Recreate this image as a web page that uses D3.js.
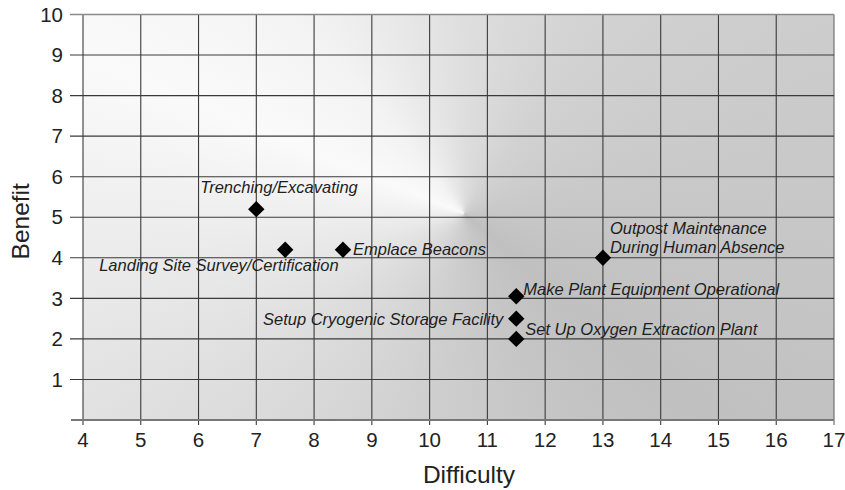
<!DOCTYPE html>
<html>
<head>
<meta charset="utf-8">
<script src="https://cdn.jsdelivr.net/npm/d3@7/dist/d3.min.js"></script>
<style>
  html, body { margin: 0; padding: 0; background: #fff; }
  #wrap { position: relative; width: 845px; height: 490px; overflow: hidden; }
  #bg { position: absolute; }
  svg { position: absolute; left: 0; top: 0; }
  text { font-family: "Liberation Sans", Arial, sans-serif; }
</style>
</head>
<body>
<div id="wrap"><div id="bg"></div></div>
<script>
// ---- data ----
const tasks = [
  "Trenching/Excavating",
  "Landing Site Survey/Certification",
  "Emplace Beacons",
  "Outpost Maintenance|During Human Absence",
  "Make Plant Equipment Operational",
  "Setup Cryogenic Storage Facility",
  "Set Up Oxygen Extraction Plant"
];
const difficulty = [7, 7.5, 8.5, 13, 11.5, 11.5, 11.5];
const benefit    = [5.2, 4.2, 4.2, 4.0, 3.05, 2.5, 2.0];
const xTicks = [4,5,6,7,8,9,10,11,12,13,14,15,16,17];
const yTicks = [1,2,3,4,5,6,7,8,9,10];
const xTitle = "Difficulty";
const yTitle = "Benefit";

// label placement (style only)
const labelPlace = [
  {dx: -56, dy: -16, anchor: "start"},
  {dx: -186, dy: 21, anchor: "start"},
  {dx: 10, dy: 5, anchor: "start"},
  {dx: 7, dy: -24, anchor: "start", lh: 19},
  {dx: 7, dy: -1, anchor: "start"},
  {dx: -13, dy: 6, anchor: "end"},
  {dx: 9, dy: -4, anchor: "start"}
];

const W = 845, H = 490;
const x = d3.scaleLinear().domain([4, 17]).range([83, 834]);
const y = d3.scaleLinear().domain([0, 10]).range([420, 14.5]);

// background shading (conic sweep)
const px0 = x(4), px1 = x(17), py0 = y(10), py1 = y(0);
const cx = x(10.6) - px0, cy = y(5.1) - py0;
d3.select("#bg")
  .style("left", px0 + "px").style("top", py0 + "px")
  .style("width", (px1 - px0) + "px").style("height", (py1 - py0) + "px")
  .style("background",
    `conic-gradient(from 0deg at ${cx}px ${cy}px,
      #dedede 0deg, #d2d2d2 35deg, #c9c9c9 80deg, #c0c0c0 130deg,
      #c6c6c6 160deg, #d0d0d0 195deg, #dedede 235deg, #ececec 265deg,
      #fafafa 292deg, #f3f3f3 320deg, #e6e6e6 345deg, #dedede 360deg)`);

const svg = d3.select("#wrap").append("svg").attr("width", W).attr("height", H);

// grid
const g = svg.append("g");
g.selectAll(".vx").data(xTicks).join("line")
  .attr("x1", d => x(d)).attr("x2", d => x(d))
  .attr("y1", y(10)).attr("y2", y(0) + 5)
  .attr("stroke", d => d === 17 ? "#666" : "#3a3a3a").attr("stroke-width", 1.1);
g.selectAll(".hy").data(yTicks).join("line")
  .attr("x1", x(4) - 13).attr("x2", x(17))
  .attr("y1", d => y(d)).attr("y2", d => y(d))
  .attr("stroke", d => d === 10 ? "#8a8a8a" : "#3a3a3a")
  .attr("stroke-width", d => d === 10 ? 1.6 : 1.1);
// bottom axis line
g.append("line").attr("x1", x(4) - 12).attr("x2", x(17))
  .attr("y1", y(0)).attr("y2", y(0)).attr("stroke", "#777").attr("stroke-width", 2);

// tick labels
svg.append("g").selectAll("text").data(xTicks).join("text")
  .attr("x", d => x(d)).attr("y", y(0) + 27)
  .attr("text-anchor", "middle").attr("font-size", 20.5).attr("fill", "#222")
  .text(d => d);
svg.append("g").selectAll("text").data(yTicks).join("text")
  .attr("x", 63).attr("y", d => y(d)).attr("dy", "0.35em")
  .attr("text-anchor", "end").attr("font-size", 20.5).attr("fill", "#222")
  .text(d => d);

// axis titles
svg.append("text").attr("x", 469).attr("y", 483)
  .attr("text-anchor", "middle").attr("font-size", 24.5).attr("fill", "#222")
  .text(xTitle);
svg.append("text").attr("transform", `translate(29,${y(4.9)}) rotate(-90)`)
  .attr("text-anchor", "middle").attr("font-size", 24.5).attr("fill", "#222")
  .text(yTitle);

// points
const pts = tasks.map((t, i) => ({t, xv: difficulty[i], yv: benefit[i], p: labelPlace[i]}));
const sym = d3.symbol(d3.symbolSquare, 135);
svg.append("g").selectAll("path").data(pts).join("path")
  .attr("d", sym)
  .attr("transform", d => `translate(${x(d.xv)},${y(d.yv)}) rotate(45)`)
  .attr("fill", "#000");

// labels
const lab = svg.append("g").selectAll("text").data(pts).join("text")
  .attr("x", d => x(d.xv) + d.p.dx).attr("y", d => y(d.yv) + d.p.dy)
  .attr("text-anchor", d => d.p.anchor)
  .attr("font-size", 16.5).attr("font-style", "italic").attr("fill", "#1e1e1e");
lab.each(function(d) {
  const parts = d.t.split("|");
  d3.select(this).selectAll("tspan").data(parts).join("tspan")
    .attr("x", x(d.xv) + d.p.dx)
    .attr("dy", (s, j) => j === 0 ? 0 : (d.p.lh || 18))
    .text(s => s);
});
</script>
</body>
</html>
